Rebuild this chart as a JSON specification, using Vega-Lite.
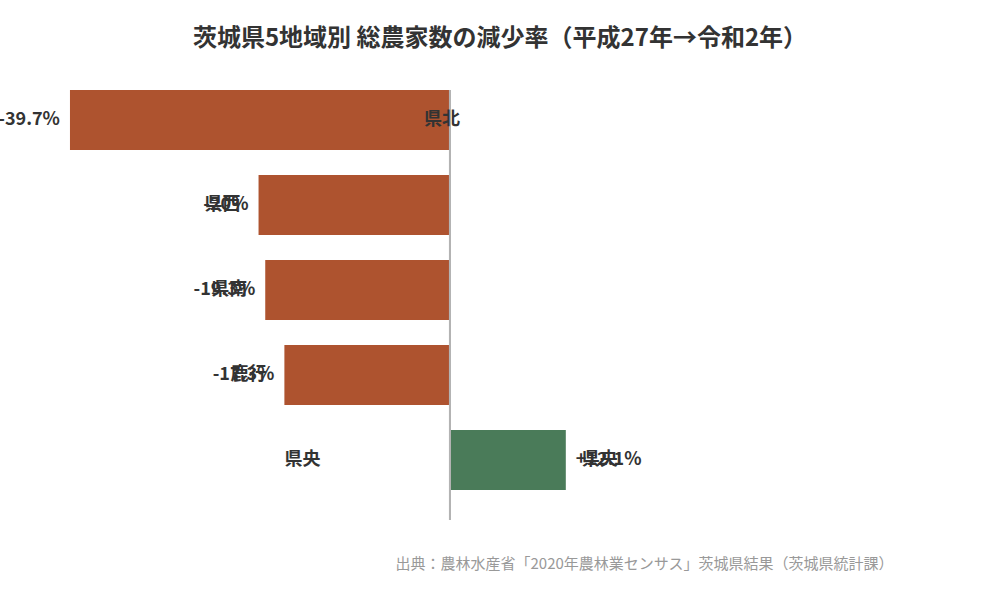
{
  "$schema": "https://vega.github.io/schema/vega-lite/v6.json",
  "autosize": {"type": "none"},
  "width": 1000,
  "height": 430,
  "padding": {"top": 90, "left": 0, "right": 0, "bottom": 80},
  "background": "#ffffff",
  "title": {
    "text": "茨城県5地域別 総農家数の減少率（平成27年→令和2年）",
    "anchor": "middle",
    "font": "Noto Sans CJK JP",
    "fontSize": 24,
    "fontWeight": "bold",
    "color": "#333333",
    "offset": 38
  },
  "config": {
    "view": {"stroke": null},
    "text": {"font": "Noto Sans CJK JP", "fontSize": 18, "fontWeight": "bold", "color": "#333333", "baseline": "middle"}
  },
  "data": {
    "values": [
      {"region": "県北", "rate": -39.7},
      {"region": "県西", "rate": -20},
      {"region": "県南", "rate": -19.3},
      {"region": "鹿行", "rate": -17.3},
      {"region": "県央", "rate": 12.1}
    ]
  },
  "transform": [
    {"calculate": "(datum.rate > 0 ? '+' : '') + datum.rate + '%'", "as": "label"}
  ],
  "encoding": {
    "y": {
      "field": "region",
      "type": "nominal",
      "sort": null,
      "axis": null,
      "scale": {"paddingInner": 0.2941, "paddingOuter": 0.1765, "align": 0}
    }
  },
  "layer": [
    {
      "mark": "bar",
      "encoding": {
        "x": {
          "field": "rate",
          "type": "quantitative",
          "scale": {"domain": [-47.01, 57.46], "nice": false, "zero": false},
          "axis": {
            "labels": false,
            "ticks": false,
            "domain": false,
            "grid": false,
            "title": "出典：農林水産省「2020年農林業センサス」茨城県結果（茨城県統計課）",
            "titleFont": "Noto Sans CJK JP",
            "titleFontSize": 15,
            "titleFontWeight": "normal",
            "titleColor": "#999999",
            "titleAlign": "right",
            "titleBaseline": "middle",
            "titleX": 893,
            "titleY": 43
          }
        },
        "color": {
          "condition": {"test": "datum.rate < 0", "value": "#ae532f"},
          "value": "#4a7b59"
        }
      }
    },
    {
      "mark": {"type": "rule", "color": "#b3b3b3", "strokeWidth": 2},
      "encoding": {"x": {"datum": 0}, "y": null}
    },
    {
      "transform": [{"filter": "datum.rate < 0"}],
      "mark": {"type": "text", "align": "right", "dx": -10},
      "encoding": {"x": {"field": "rate", "type": "quantitative"}, "text": {"field": "label"}}
    },
    {
      "transform": [{"filter": "datum.rate > 0"}],
      "mark": {"type": "text", "align": "left", "dx": 10},
      "encoding": {"x": {"field": "rate", "type": "quantitative"}, "text": {"field": "label"}}
    },
    {
      "transform": [{"filter": "datum.rate < 0 && datum.region != '県北'"}],
      "mark": {"type": "text", "align": "right", "dx": -18},
      "encoding": {"x": {"field": "rate", "type": "quantitative"}, "text": {"field": "region"}}
    },
    {
      "transform": [{"filter": "datum.rate > 0"}],
      "mark": {"type": "text", "align": "left", "dx": 16},
      "encoding": {"x": {"field": "rate", "type": "quantitative"}, "text": {"field": "region"}}
    },
    {
      "transform": [{"filter": "datum.region == '県北'"}],
      "mark": {"type": "text", "align": "right", "dx": 10},
      "encoding": {"x": {"datum": 0}, "text": {"field": "region"}}
    },
    {
      "transform": [{"filter": "datum.region == '県央'"}],
      "mark": {"type": "text", "align": "center"},
      "encoding": {"x": {"datum": -15.4}, "text": {"field": "region"}}
    }
  ]
}
